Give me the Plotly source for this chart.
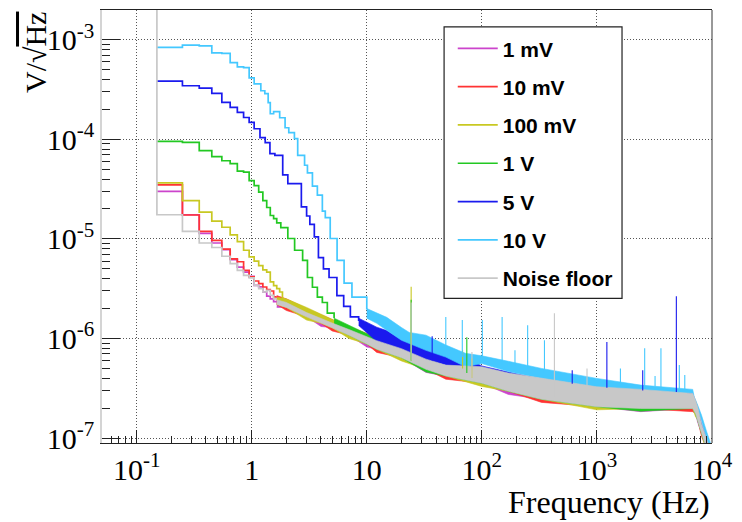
import plotly.graph_objects as go

# ---------------- data ----------------
# low-frequency histogram bin edges (Hz)
edges = [0.15, 0.25, 0.35, 0.45, 0.55, 0.65, 0.75, 0.85, 0.95, 1.05,
         1.15, 1.25, 1.35, 1.45, 1.55, 1.65, 1.75, 1.85, 1.95]

names = ["1 mV", "10 mV", "100 mV", "1 V", "5 V", "10 V", "Noise floor"]

# bin contents (V/sqrt(Hz))
mv1_bins = [3.0e-5, 1.75e-5, 1.14e-5, 9.1e-6, 7.8e-6, 6.2e-6, 5.2e-6, 4.65e-6, 4.2e-6,
            3.42e-6, 3.3e-6, 2.93e-6, 2.66e-6, 2.5e-6, 2.35e-6]
mv10_bins = [3.5e-5, 1.74e-5, 1.19e-5, 9.66e-6, 7.9e-6, 6.3e-6, 5.9e-6, 4.83e-6, 4.15e-6,
             3.78e-6, 3.56e-6, 3.29e-6, 3.1e-6, 3.0e-6, 2.62e-6]
mv100_bins = [3.66e-5, 2.43e-5, 1.86e-5, 1.51e-5, 1.31e-5, 1.1e-5, 9.4e-6, 7.7e-6, 6.6e-6,
              6.0e-6, 5.4e-6, 4.9e-6, 4.65e-6, 3.7e-6, 3.4e-6, 3.17e-6, 2.93e-6, 2.5e-6]
v1_bins = [9.57e-5, 9.35e-5, 7.7e-5, 6.7e-5, 6.1e-5, 5.7e-5, 4.8e-5, 4.7e-5, 3.86e-5,
           3.44e-5, 2.95e-5, 2.43e-5, 2.07e-5, 1.72e-5]
v5_bins = [3.85e-4, 3.46e-4, 3.28e-4, 2.9e-4, 2.35e-4, 2.1e-4, 1.87e-4, 1.66e-4, 1.48e-4, 1.28e-4]
v10_bins = [8.4e-4, 8.85e-4, 8.7e-4, 7.4e-4, 7.3e-4, 5.9e-4, 5.35e-4, 5.25e-4, 4.15e-4, 3.62e-4]
floor_first_edge = 0.05
floor_first_value = 1.0e-2
floor_bins = [1.75e-5, 1.19e-5, 9.1e-6, 8.2e-6, 6.7e-6, 5.65e-6, 4.83e-6, 4.3e-6, 4.07e-6,
              3.42e-6, 3.17e-6, 2.93e-6, 3.05e-6, 2.72e-6, 2.5e-6]

# traced continuation (freq, value) where bins get too narrow to resolve
v1_trace_f = [1.55, 1.65, 1.79, 2.06, 2.36, 2.77, 3.05, 3.37, 3.72, 4.11, 4.54, 5.2]
v1_trace_v = [1.6e-5, 1.45e-5, 1.3e-5, 1.01e-5, 7.7e-6, 6.1e-6, 4.1e-6, 3.27e-6, 2.6e-6,
              2.3e-6, 1.8e-6, 1.6e-6]
v5_trace_f = [1.15, 1.18, 1.31, 1.44, 1.59, 1.86, 2.06, 2.7, 3.0, 3.2, 3.5, 3.8, 4.2, 4.7,
              5.5, 6.3, 7.2, 8.5]
v5_trace_v = [1.28e-4, 1.04e-4, 9.3e-5, 7.2e-5, 6.9e-5, 4.4e-5, 3.6e-5, 2.1e-5, 1.7e-5,
              1.4e-5, 1.05e-5, 6.5e-6, 5.0e-6, 4.1e-6, 2.7e-6, 2.1e-6, 1.65e-6, 1.5e-6]
v10_trace_f = [1.15, 1.2, 1.3, 1.39, 1.45, 1.55, 1.75, 1.95, 2.1, 2.35, 2.51, 2.88, 3.05,
               3.37, 3.72, 4.11, 4.36, 4.81, 5.52, 6.35, 7.43, 10.0]
v10_trace_v = [3.62e-4, 3.08e-4, 2.88e-4, 2.34e-4, 1.81e-4, 1.9e-4, 1.65e-4, 1.31e-4,
               1.17e-4, 1.02e-4, 6.9e-5, 5.5e-5, 4.6e-5, 3.4e-5, 2.75e-5, 1.9e-5, 1.64e-5,
               1.01e-5, 6.1e-6, 3.6e-6, 2.6e-6, 1.95e-6]

# dense high-frequency noise bands: frequency, upper and lower envelope
low_band_f = [1.65, 2, 3, 4, 5, 7, 10, 12.2, 20, 32.7, 48.6, 100, 170, 330, 1000, 2400,
              6800, 7200, 7500, 8100, 8900, 9500]
mv1_up = [2.6e-6, 2.45e-6, 1.95e-6, 1.7e-6, 1.52e-6, 1.3e-6, 1.1e-6, 1.0e-6, 8.0e-7, 6.1e-7,
          5.2e-7, 4.6e-7, 4.1e-7, 3.6e-7, 3.0e-7, 2.8e-7, 2.6e-7, 2.3e-7, 1.9e-7, 1.3e-7,
          9e-8, 7.5e-8]
mv1_lo = [2.05e-6, 2.05e-6, 1.65e-6, 1.32e-6, 1.28e-6, 1.08e-6, 8.2e-7, 7.8e-7, 6.4e-7,
          4.56e-7, 4.2e-7, 3.55e-7, 2.74e-7, 2.45e-7, 2.06e-7, 1.84e-7, 1.98e-7, 1.75e-7,
          1.44e-7, 1.12e-7, 8e-8, 6.5e-8]
mv10_up = [2.7e-6, 2.5e-6, 2.0e-6, 1.72e-6, 1.55e-6, 1.32e-6, 1.12e-6, 1.0e-6, 8.1e-7,
           6.2e-7, 5.3e-7, 4.6e-7, 4.1e-7, 3.6e-7, 3.0e-7, 2.8e-7, 2.6e-7, 2.3e-7, 1.9e-7,
           1.3e-7, 9e-8, 7.5e-8]
mv10_lo = [2.2e-6, 1.91e-6, 1.65e-6, 1.42e-6, 1.19e-6, 1.08e-6, 8.8e-7, 7.25e-7, 6.4e-7,
           4.9e-7, 3.9e-7, 3.55e-7, 2.95e-7, 2.28e-7, 2.06e-7, 1.98e-7, 1.84e-7, 1.75e-7,
           1.55e-7, 1.04e-7, 8e-8, 7e-8]
mv100_up = [2.6e-6, 2.5e-6, 2.05e-6, 1.75e-6, 1.55e-6, 1.3e-6, 1.12e-6, 1.0e-6, 8.1e-7,
            6.2e-7, 5.3e-7, 4.6e-7, 4.1e-7, 3.6e-7, 3.0e-7, 2.8e-7, 2.6e-7, 2.3e-7, 1.9e-7,
            1.3e-7, 9e-8, 7.5e-8]
mv100_lo = [2.2e-6, 2.05e-6, 1.53e-6, 1.42e-6, 1.28e-6, 1.0e-6, 8.8e-7, 7.8e-7, 5.95e-7,
            4.9e-7, 4.2e-7, 3.3e-7, 2.95e-7, 2.45e-7, 1.92e-7, 1.98e-7, 1.98e-7, 1.63e-7,
            1.55e-7, 1.12e-7, 7.4e-8, 7e-8]
v1_band_f = [5.2, 7, 10, 12.2, 20, 32.7, 48.6, 100, 170, 330, 1000, 2400, 6800, 7200, 7500,
             8100, 8900, 9500]
v1_up = [1.6e-6, 1.35e-6, 1.12e-6, 1.0e-6, 8.1e-7, 6.2e-7, 5.3e-7, 4.6e-7, 4.1e-7, 3.6e-7,
         3.0e-7, 2.8e-7, 2.6e-7, 2.3e-7, 1.9e-7, 1.3e-7, 9e-8, 7.5e-8]
v1_lo = [1.28e-6, 1.08e-6, 8.8e-7, 7.8e-7, 6.4e-7, 4.6e-7, 4.2e-7, 3.55e-7, 2.95e-7, 2.45e-7,
         2.06e-7, 1.86e-7, 1.98e-7, 1.75e-7, 1.55e-7, 1.12e-7, 8e-8, 7e-8]
v5_band_f = [8.5, 10, 12.2, 14.9, 20, 32.7, 48.6, 72, 100, 170, 330, 1000, 2400, 6800, 7500,
             8100, 8900, 9600]
v5_up = [1.6e-6, 1.45e-6, 1.3e-6, 1.2e-6, 9.7e-7, 8.0e-7, 7.0e-7, 6.4e-7, 5.3e-7, 4.6e-7,
         3.9e-7, 3.3e-7, 3.05e-7, 2.8e-7, 2.06e-7, 1.4e-7, 1.05e-7, 8e-8]
v5_lo = [1.35e-6, 1.15e-6, 9.3e-7, 8.4e-7, 7.6e-7, 6.1e-7, 5.4e-7, 4.9e-7, 4.2e-7, 3.5e-7,
         3.0e-7, 2.5e-7, 2.4e-7, 2.3e-7, 1.7e-7, 1.2e-7, 9e-8, 7e-8]
v10_band_f = [10, 12.2, 14.9, 20, 23.4, 32.7, 48.6, 72, 100, 170, 330, 1000, 2400, 6800,
              7000, 7500, 8100, 8900, 9700]
v10_up = [2.0e-6, 1.79e-6, 1.63e-6, 1.29e-6, 1.15e-6, 1.08e-6, 8.6e-7, 7.1e-7, 6.7e-7,
          5.9e-7, 5.0e-7, 3.97e-7, 3.4e-7, 3.08e-7, 2.6e-7, 2.15e-7, 1.7e-7, 1.2e-7, 8.9e-8]
v10_lo = [1.6e-6, 1.42e-6, 1.21e-6, 9.6e-7, 9.0e-7, 7.6e-7, 6.5e-7, 5.2e-7, 5.6e-7, 4.65e-7,
          3.97e-7, 3.17e-7, 2.9e-7, 2.81e-7, 2.3e-7, 1.9e-7, 1.5e-7, 1.0e-7, 8e-8]
floor_band_f = [1.65, 2, 3, 4, 5, 7, 10, 12.2, 20, 32.7, 48.6, 100, 170, 330, 1000, 2400,
                6800, 7200, 7500, 8100, 8900, 9500]
floor_up = [2.45e-6, 2.3e-6, 1.82e-6, 1.58e-6, 1.43e-6, 1.23e-6, 1.04e-6, 9.5e-7, 7.9e-7,
            6.2e-7, 5.4e-7, 5.2e-7, 4.5e-7, 3.97e-7, 3.27e-7, 3.08e-7, 2.8e-7, 2.4e-7,
            2.06e-7, 1.4e-7, 1.0e-7, 8e-8]
floor_lo = [2.2e-6, 2.05e-6, 1.65e-6, 1.42e-6, 1.28e-6, 1.08e-6, 8.8e-7, 7.8e-7, 6.4e-7,
            4.9e-7, 4.2e-7, 3.55e-7, 2.95e-7, 2.45e-7, 2.06e-7, 1.98e-7, 1.98e-7, 1.75e-7,
            1.55e-7, 1.12e-7, 8e-8, 7e-8]

# narrow lines (spikes): frequency, peak value, base value
mv100_spk_f = [24.3, 68, 82]
mv100_spk_top = [3.3e-6, 7.6e-7, 6.3e-7]
mv100_spk_base = [6e-7, 5e-7, 4e-7]
v1_spk_f = [24.3, 74]
v1_spk_top = [2.45e-6, 1.03e-6]
v1_spk_base = [6e-7, 4.5e-7]
v5_spk_f = [37, 610, 1220, 2500, 4900]
v5_spk_top = [1.05e-6, 4.8e-7, 9.2e-7, 4.8e-7, 2.66e-6]
v5_spk_base = [6e-7, 3.5e-7, 3.2e-7, 3.0e-7, 2.9e-7]
v10_spk_f = [48.6, 67.6, 101, 150, 194, 250, 350, 1600, 2600, 3200, 3600, 5200, 5800]
v10_spk_top = [1.64e-6, 1.53e-6, 1.53e-6, 1.64e-6, 7.6e-7, 1.36e-6, 9.6e-7, 5.0e-7, 8.0e-7,
               4.2e-7, 8.0e-7, 5.4e-7, 4.3e-7]
v10_spk_base = [8e-7, 6.5e-7, 6e-7, 5.5e-7, 5.3e-7, 5e-7, 4.5e-7, 3.6e-7, 3.3e-7, 3.3e-7,
                3.2e-7, 3.1e-7, 3.1e-7]
floor_spk_f = [24.3, 82, 427, 820]
floor_spk_top = [2.3e-6, 7.3e-7, 1.79e-6, 5.0e-7]
floor_spk_base = [6e-7, 4e-7, 2.6e-7, 2.2e-7]

# axis tick labels
x_tickvals = [0.1, 1, 10, 100, 1000, 10000]
x_ticktext = ["10<sup>-1</sup>", "1", "10", "10<sup>2</sup>", "10<sup>3</sup>", "10<sup>4</sup>"]
y_tickvals = [1e-7, 1e-6, 1e-5, 1e-4, 1e-3]
y_ticktext = ["10<sup>-7</sup>", "10<sup>-6</sup>", "10<sup>-5</sup>", "10<sup>-4</sup>", "10<sup>-3</sup>"]

colors = ["#cc44cc", "#ff3333", "#c8c822", "#22c822", "#1a1aee", "#44c8ff", "#c8c8c8"]

# ---------------- build figure ----------------
series = [
    dict(bins=mv1_bins, tf=None, tv=None, bf=low_band_f, up=mv1_up, lo=mv1_lo, sf=[], st=[], sb=[]),
    dict(bins=mv10_bins, tf=None, tv=None, bf=low_band_f, up=mv10_up, lo=mv10_lo, sf=[], st=[], sb=[]),
    dict(bins=mv100_bins, tf=None, tv=None, bf=low_band_f, up=mv100_up, lo=mv100_lo,
         sf=mv100_spk_f, st=mv100_spk_top, sb=mv100_spk_base),
    dict(bins=v1_bins, tf=v1_trace_f, tv=v1_trace_v, bf=v1_band_f, up=v1_up, lo=v1_lo,
         sf=v1_spk_f, st=v1_spk_top, sb=v1_spk_base),
    dict(bins=v5_bins, tf=v5_trace_f, tv=v5_trace_v, bf=v5_band_f, up=v5_up, lo=v5_lo,
         sf=v5_spk_f, st=v5_spk_top, sb=v5_spk_base),
    dict(bins=v10_bins, tf=v10_trace_f, tv=v10_trace_v, bf=v10_band_f, up=v10_up, lo=v10_lo,
         sf=v10_spk_f, st=v10_spk_top, sb=v10_spk_base),
    dict(bins=floor_bins, tf=None, tv=None, bf=floor_band_f, up=floor_up, lo=floor_lo,
         sf=floor_spk_f, st=floor_spk_top, sb=floor_spk_base),
]

fig = go.Figure()

# bands first (drawing order = legend order, noise floor on top)
for i, s in enumerate(series):
    fig.add_trace(go.Scatter(
        x=s["bf"] + s["bf"][::-1], y=s["up"] + s["lo"][::-1],
        mode="lines", fill="toself", fillcolor=colors[i],
        line=dict(color=colors[i], width=0.6),
        legendgroup=names[i], showlegend=False, hoverinfo="skip"))

# step histograms (these carry the legend entries)
for i, s in enumerate(series):
    n = len(s["bins"])
    if s["tf"] is not None:
        xs = edges[:n] + s["tf"]
        ys = s["bins"] + s["tv"]
    else:
        xs = edges[:n + 1]
        ys = s["bins"] + [s["bins"][-1]]
    if names[i] == "Noise floor":
        xs = [floor_first_edge] + xs
        ys = [floor_first_value] + ys
    fig.add_trace(go.Scatter(
        x=xs, y=ys, mode="lines", line=dict(color=colors[i], width=1.7, shape="hv"),
        name=names[i], legendgroup=names[i], legendrank=i + 1, hoverinfo="skip"))

# spikes on top
for i, s in enumerate(series):
    if not s["sf"]:
        continue
    xs, ys = [], []
    for f, t, b in zip(s["sf"], s["st"], s["sb"]):
        xs += [f, f, None]
        ys += [b, t, None]
    fig.add_trace(go.Scatter(
        x=xs, y=ys, mode="lines", line=dict(color=colors[i], width=1.1),
        legendgroup=names[i], showlegend=False, hoverinfo="skip"))

minor_x = [m * 10 ** e for e in range(-2, 4) for m in range(2, 10)]
minor_y = [m * 10 ** e for e in range(-8, -2) for m in range(2, 10)]

serif = "Liberation Serif"

fig.update_layout(
    width=742, height=522,
    margin=dict(l=102, r=23, t=9, b=79),
    paper_bgcolor="white", plot_bgcolor="white",
    showlegend=True,
    legend=dict(
        x=0.575, y=0.958, xanchor="left", yanchor="top",
        bgcolor="rgba(0,0,0,0)", borderwidth=0,
        font=dict(family="Liberation Sans", size=21, color="black", weight="bold"),
        traceorder="grouped", tracegroupgap=8, itemwidth=40,
    ),
    xaxis=dict(
        type="log", range=[-1.301, 4.0],
        tickmode="array", tickvals=x_tickvals, ticktext=x_ticktext,
        ticks="inside", ticklen=13, tickcolor="#222", tickwidth=1,
        tickfont=dict(family=serif, size=30, color="black"),
        showgrid=True, gridcolor="#555", griddash="1px,2px", gridwidth=1,
        showline=True, linecolor="#222", linewidth=1, mirror=True,
        minor=dict(tickmode="array", tickvals=minor_x, ticks="inside", ticklen=7,
                   tickcolor="#222", showgrid=False),
        zeroline=False,
    ),
    yaxis=dict(
        type="log", range=[-7.05, -2.70],
        tickmode="array", tickvals=y_tickvals, ticktext=y_ticktext,
        ticks="inside", ticklen=18, tickcolor="#222", tickwidth=1,
        tickfont=dict(family=serif, size=30, color="black"),
        showgrid=True, gridcolor="#555", griddash="1px,2px", gridwidth=1,
        showline=True, linecolor="#d4d4d4", linewidth=1.5, mirror=False,
        minor=dict(tickmode="array", tickvals=minor_y, ticks="inside", ticklen=8,
                   tickcolor="#222", showgrid=False),
        zeroline=False,
    ),
    shapes=[
        dict(type="line", xref="paper", yref="paper", x0=1, x1=1, y0=0, y1=1,
             line=dict(color="#333", width=1)),
        dict(type="rect", xref="paper", yref="paper", x0=0.5608, x1=0.8525, y0=0.334, y1=0.961,
             fillcolor="white", line=dict(color="#222", width=1.2), layer="above"),
    ],
    annotations=[
        dict(text="Frequency (Hz)", xref="paper", yref="paper", x=1.0, y=-0.137,
             xanchor="right", yanchor="middle", showarrow=False,
             font=dict(family=serif, size=32, color="black")),
        dict(text="V/\u221a<span style='text-decoration:overline'>Hz</span>",
             xref="paper", yref="paper", x=-0.109, y=1.0, textangle=-90,
             xanchor="center", yanchor="top", showarrow=False,
             font=dict(family=serif, size=30, color="black")),
    ],
)

fig.write_html("out.html")
